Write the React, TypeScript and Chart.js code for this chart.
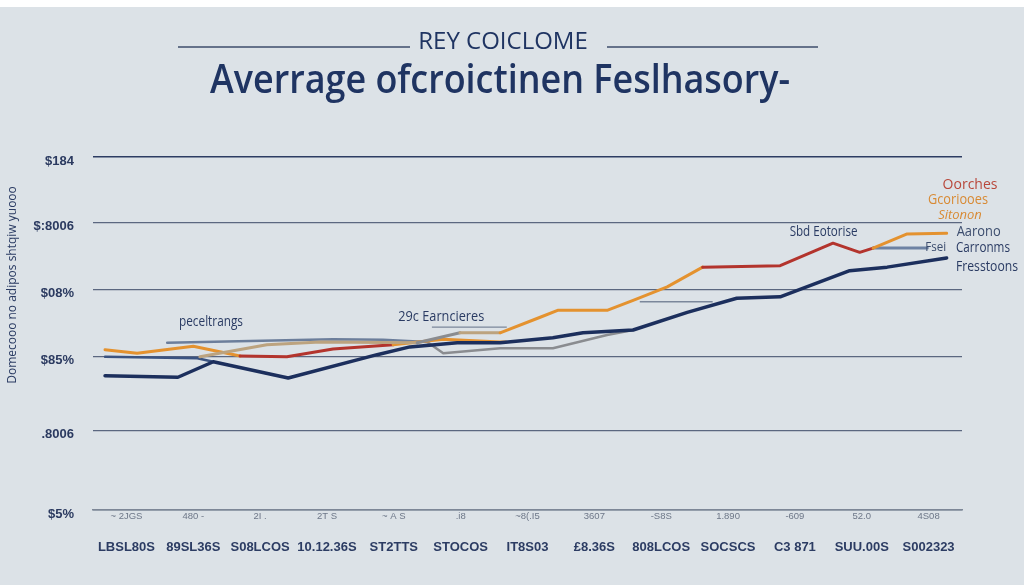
import React, { useEffect, useRef } from 'react';
import { Chart, registerables } from 'chart.js';

Chart.register(...registerables);

// ---------- data ----------
const xLabelsTop = ['~ 2JGS', '480 -', '2I .', '2T S', '~ A S', '.i8', '~8(.I5', '3607', '-S8S', '1.890', '-609', '52.0', '4S08'];
const xLabelsBottom = ['LBSL80S', '89SL36S', 'S08LCOS', '10.12.36S', 'ST2TTS', 'STOCOS', 'IT8S03', '£8.36S', '808LCOS', 'SOCSCS', 'C3 871', 'SUU.00S', 'S002323'];
const yTickValues = [0, 1.13, 2.17, 3.12, 4.07, 5];
const yTickLabels = ['$5%', '.8006', '$85%', '$08%', '$:8006', '$184'];

// dark navy line
const navyX = [-0.32, 0.77, 1.3, 2.42, 3.75, 4.24, 4.95, 5.59, 6.38, 6.83, 7.58, 8.39, 9.13, 9.78, 10.82, 11.38, 12.27];
const navyY = [1.9, 1.88, 2.1, 1.87, 2.2, 2.31, 2.37, 2.37, 2.44, 2.51, 2.55, 2.8, 3.0, 3.02, 3.39, 3.44, 3.57];

// thin navy line
const thinNavyX = [-0.32, 1.06, 1.3];
const thinNavyY = [2.17, 2.15, 2.1];

// lower orange / red line
const lowerX = [-0.32, 0.16, 1.0, 1.7, 2.4, 3.09, 3.99, 4.74, 5.59, 5.68];
const lowerY = [2.27, 2.22, 2.32, 2.18, 2.17, 2.28, 2.34, 2.42, 2.38, 2.38];

// steel / gray line
const steelX = [0.61, 3.09, 3.84, 4.5, 4.74, 5.59, 6.38, 7.19, 7.58];
const steelY = [2.37, 2.42, 2.41, 2.38, 2.22, 2.29, 2.29, 2.48, 2.55];

// rising tan / orange / red line
const risingX = [1.1, 2.1, 2.9, 4.35, 4.99, 5.59, 6.19, 6.46, 7.2, 7.58, 8.09, 8.62, 9.78, 10.57, 10.97, 11.17, 11.68, 12.27];
const risingY = [2.17, 2.34, 2.38, 2.37, 2.51, 2.51, 2.73, 2.83, 2.83, 2.97, 3.16, 3.44, 3.46, 3.78, 3.65, 3.71, 3.91, 3.92];

// short steel-blue flat line
const flatX = [11.17, 11.98];
const flatY = [3.71, 3.71];

// thin annotation rule
const ruleX = [7.68, 8.77];
const ruleY = [2.95, 2.95];

// text annotations (data units)
const noteTexts = ['peceltrangs', '29c Earncieres', 'Sbd Eotorise', 'Oorches', 'Gcoriooes', 'Sitonon', 'Aarono', 'Fsei', 'Carronms', 'Fresstoons'];
const noteX = [1.265, 4.71, 10.43, 12.62, 12.44, 12.47, 12.42, 11.95, 12.41, 12.41];
const noteY = [2.66, 2.73, 3.94, 4.6, 4.39, 4.18, 3.94, 3.71, 3.71, 3.44];

const X_MIN = -0.5;
const X_MAX = 12.5;

// ---------- styles ----------
const BG = '#dce2e7';
const NAVY = '#1c2f5d';
const ORANGE = '#e4922f';
const RED = '#b3342d';
const STEEL = '#6c7e9b';
const GRAY = '#8a8c90';
const TAN = '#bca37f';
const THIN_NAVY = '#3b5380';

const lowerColors = [ORANGE, ORANGE, ORANGE, RED, RED, RED, ORANGE, ORANGE, ORANGE];
const steelColors = [STEEL, STEEL, STEEL, GRAY, GRAY, GRAY, GRAY, GRAY];
const risingColors = [TAN, TAN, TAN, GRAY, TAN, ORANGE, ORANGE, ORANGE, ORANGE, ORANGE, ORANGE, RED, RED, RED, RED, ORANGE, ORANGE];

const noteStyles = [
  { font: '14px "Open Sans"', color: '#2a3b63', align: 'center', maxW: 64 },
  { font: '14px "Open Sans"', color: '#2a3b63', align: 'center', maxW: 86 },
  { font: '14px "Open Sans"', color: '#2a3b63', align: 'center', maxW: 68 },
  { font: '14px "Open Sans"', color: '#b8473b', align: 'center', maxW: 55 },
  { font: '14px "Open Sans"', color: '#d88a34', align: 'center', maxW: 60 },
  { font: 'italic 13px "Open Sans"', color: '#d88a34', align: 'center', maxW: 47 },
  { font: '14px "Open Sans"', color: '#3c4d6e', align: 'left', maxW: 44 },
  { font: '12px "Open Sans"', color: '#3c4d6e', align: 'left', maxW: 21 },
  { font: '14px "Open Sans"', color: '#2a3b63', align: 'left', maxW: 54 },
  { font: '14px "Open Sans"', color: '#2a3b63', align: 'left', maxW: 62 },
];

const makeLine = (xs: number[], ys: number[], colors: string[], width: number) => ({
  data: xs.map((x, i) => ({ x, y: ys[i] })),
  borderColor: colors[0],
  borderWidth: width,
  pointRadius: 0,
  tension: 0,
  fill: false,
  borderJoinStyle: 'round',
  borderCapStyle: 'round',
  segment: { borderColor: (c: any) => colors[c.p0DataIndex] || colors[0] },
});

const decor = {
  id: 'decor',
  beforeDraw(chart: any) {
    const { ctx, width, height } = chart;
    ctx.save();
    ctx.fillStyle = BG;
    ctx.fillRect(0, 0, width, height);
    ctx.fillStyle = '#ffffff';
    ctx.fillRect(0, 0, width, 7);

    // subtitle with side rules
    ctx.strokeStyle = '#65728a';
    ctx.lineWidth = 2;
    ctx.beginPath();
    ctx.moveTo(178, 47);
    ctx.lineTo(410, 47);
    ctx.moveTo(607, 47);
    ctx.lineTo(818, 47);
    ctx.stroke();

    ctx.fillStyle = '#1f3462';
    ctx.textAlign = 'center';
    ctx.textBaseline = 'alphabetic';
    ctx.font = '24px "Open Sans"';
    ctx.fillText('REY COICLOME', 503, 49, 170);

    ctx.font = '600 40px "Open Sans"';
    ctx.fillText('Averrage ofcroictinen Feslhasory-', 500, 93, 580);

    // y axis title
    ctx.save();
    ctx.translate(13, 285);
    ctx.rotate(-Math.PI / 2);
    ctx.font = '12px "Open Sans"';
    ctx.fillStyle = '#2a3b63';
    ctx.textBaseline = 'middle';
    ctx.fillText('Domecooo no adipos shtqiw yuooo', 0, 0, 216);
    ctx.restore();
    ctx.restore();
  },
  afterDatasetsDraw(chart: any) {
    const { ctx, scales } = chart;
    const xs = scales.x;
    const ys = scales.y;
    ctx.save();
    // thin rules
    ctx.strokeStyle = '#7b879b';
    ctx.lineWidth = 1.3;
    ctx.beginPath();
    ctx.moveTo(xs.getPixelForValue(ruleX[0]), ys.getPixelForValue(ruleY[0]));
    ctx.lineTo(xs.getPixelForValue(ruleX[1]), ys.getPixelForValue(ruleY[1]));
    // underline for second note
    ctx.moveTo(xs.getPixelForValue(4.57), ys.getPixelForValue(2.59));
    ctx.lineTo(xs.getPixelForValue(5.69), ys.getPixelForValue(2.59));
    ctx.stroke();

    ctx.textBaseline = 'middle';
    noteTexts.forEach((t, i) => {
      const st = noteStyles[i];
      ctx.font = st.font;
      ctx.fillStyle = st.color;
      ctx.textAlign = st.align;
      ctx.fillText(t, xs.getPixelForValue(noteX[i]), ys.getPixelForValue(noteY[i]), st.maxW);
    });
    ctx.restore();
  },
};

export default function App() {
  const ref = useRef<HTMLCanvasElement | null>(null);

  useEffect(() => {
    if (!ref.current) return;
    const chart = new Chart(ref.current, {
      type: 'line',
      data: {
        datasets: [
          makeLine(navyX, navyY, [NAVY], 3.5),
          makeLine(risingX, risingY, risingColors, 3),
          makeLine(lowerX, lowerY, lowerColors, 3),
          makeLine(thinNavyX, thinNavyY, [THIN_NAVY], 2.5),
          makeLine(steelX, steelY, steelColors, 2.5),
          makeLine(flatX, flatY, ['#6d82a3'], 3),
        ] as any,
      },
      options: {
        animation: false,
        responsive: false,
        devicePixelRatio: 1,
        parsing: false as any,
        normalized: true,
        layout: { padding: { top: 157, right: 62, bottom: 0, left: 0 } },
        plugins: { legend: { display: false }, tooltip: { enabled: false }, title: { display: false } },
        scales: {
          x: {
            type: 'linear',
            position: 'bottom',
            min: X_MIN,
            max: X_MAX,
            weight: 0,
            afterBuildTicks: (s: any) => { s.ticks = xLabelsTop.map((_, i) => ({ value: i })); },
            afterFit: (s: any) => { s.height = 22; },
            grid: { display: false, drawTicks: false },
            border: { display: true, color: '#7d8797', width: 1.5 },
            ticks: {
              padding: 1,
              autoSkip: false,
              maxRotation: 0,
              color: '#6d7788',
              font: { size: 9.5, family: '"Liberation Sans"' },
              callback: (_v: any, i: number) => xLabelsTop[i] ?? '',
            },
          },
          x2: {
            type: 'linear',
            position: 'bottom',
            min: X_MIN,
            max: X_MAX,
            weight: 1,
            afterBuildTicks: (s: any) => { s.ticks = xLabelsBottom.map((_, i) => ({ value: i })); },
            afterFit: (s: any) => { s.height = 53; },
            grid: { display: false, drawTicks: false },
            border: { display: false },
            ticks: {
              padding: 8,
              autoSkip: false,
              maxRotation: 0,
              color: '#2c3c63',
              font: { size: 13, weight: 'bold', family: '"Liberation Sans"' },
              callback: (_v: any, i: number) => xLabelsBottom[i] ?? '',
            },
          },
          y: {
            type: 'linear',
            min: 0,
            max: 5,
            afterBuildTicks: (s: any) => { s.ticks = yTickValues.map((v) => ({ value: v })); },
            afterFit: (s: any) => { s.width = 93; },
            grid: {
              drawTicks: false,
              color: (c: any) => (c.index === 5 ? '#2d3c63' : c.index === 0 ? '#7d8797' : '#5b6780'),
              lineWidth: (c: any) => (c.index === 5 ? 1.6 : c.index === 0 ? 1.5 : 1.2),
            },
            border: { display: false },
            ticks: {
              padding: 19,
              labelOffset: 4,
              color: '#2b3a60',
              font: { size: 13, weight: 'bold', family: '"Liberation Sans"' },
              callback: (_v: any, i: number) => yTickLabels[i] ?? '',
            },
          },
        },
      } as any,
      plugins: [decor],
    });
    return () => chart.destroy();
  }, []);

  return (
    <div style={{ position: 'fixed', left: 0, top: 0, width: 1024, height: 585 }}>
      <canvas ref={ref} width={1024} height={585} style={{ display: 'block' }} />
    </div>
  );
}
